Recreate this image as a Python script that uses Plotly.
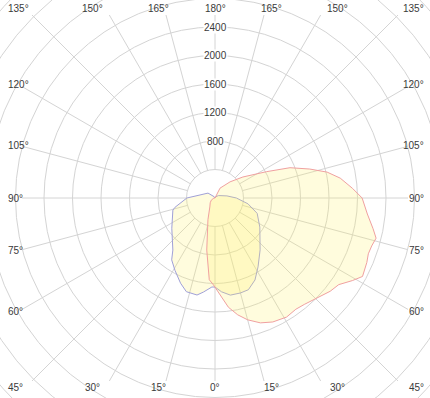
import numpy as np
import plotly.graph_objects as go

# ---- data (angle in degrees from nadir, negative = left half; intensity in cd) ----
red_angles = [-180, -150, -120, -90, -60, -45, -30, -18, -9, -4, -1, 0, 3, 7, 11, 15, 20, 25,
              31, 36, 40, 47, 51, 55, 59, 62, 67, 70, 73, 76, 79, 84, 90, 94, 99, 103, 107,
              112, 117, 127, 137, 153, 180]
red_cd = [0, 0, 5, 15, 60, 95, 145, 320, 740, 1150, 1220, 1250, 1360, 1545, 1670, 1770, 1865, 1920,
          1950, 1930, 1950, 2025, 2080, 2120, 2250, 2345, 2315, 2290, 2300, 2330, 2260, 2150, 2065,
          1935, 1780, 1615, 1390, 1135, 815, 490, 310, 155, 0]

blue_angles = [-180, -150, -125, -101, -90, -77, -74, -55, -39, -35, -29, -22, -17, -10.5, -7, -2,
               0, 4, 9, 15, 20, 26, 32, 41, 57, 70, 80, 90, 100, 125, 150, 180]
blue_cd = [0, 20, 120, 215, 395, 575, 615, 740, 940, 1060, 1160, 1290, 1375, 1385, 1330, 1250,
           1250, 1320, 1380, 1380, 1370, 1280, 1140, 965, 750, 630, 470, 300, 170, 60, 20, 0]

radial_ticks = [800, 1200, 1600, 2000, 2400]
grid_circles = [400, 800, 1200, 1600, 2000, 2400, 2800, 3200, 3600, 4000, 4400]
spoke_angles = list(range(-180, 180, 15))
angle_labels = [0, 15, 30, 45, 60, 75, 90, 105, 120, 135, 150, 165, 180]

# ---- geometry helpers ----
PX = 400 / 28.5          # cd per screen pixel
CX, CY = 215, 198        # centre in screen pixels
W, H = 430, 398


def to_xy(angles, cd):
    a = np.radians(np.asarray(angles, dtype=float))
    r = np.asarray(cd, dtype=float)
    return r * np.sin(a), -r * np.cos(a)


def px2x(px):
    return (px - CX) * PX


def px2y(py):
    return (CY - py) * PX


GRID = "#d4d4d4"
TXT = "#3a3a3a"
FONT = "Arial, 'Liberation Sans', sans-serif"

fig = go.Figure()

shapes = []
for r in grid_circles:
    shapes.append(dict(type="circle", xref="x", yref="y", x0=-r, x1=r, y0=-r, y1=r,
                       line=dict(color=GRID, width=1), layer="below"))

SW, SH = 193 * PX, 183 * PX
for a in spoke_angles:
    s, c = np.sin(np.radians(a)), -np.cos(np.radians(a))
    t = min(SW / abs(s) if abs(s) > 1e-9 else 1e9, SH / abs(c) if abs(c) > 1e-9 else 1e9)
    shapes.append(dict(type="line", xref="x", yref="y",
                       x0=400 * s, y0=400 * c, x1=t * s, y1=t * c,
                       line=dict(color=GRID, width=1), layer="below"))

bx, by = to_xy(blue_angles, blue_cd)
rx, ry = to_xy(red_angles, red_cd)
fill = "rgba(255,240,100,0.22)"
fig.add_trace(go.Scatter(x=bx, y=by, mode="lines", fill="toself", fillcolor=fill,
                         line=dict(color="#a0a0d8", width=1), hoverinfo="skip", showlegend=False))
fig.add_trace(go.Scatter(x=rx, y=ry, mode="lines", fill="toself", fillcolor=fill,
                         line=dict(color="#f0a0a0", width=1), hoverinfo="skip", showlegend=False))

ann = []
for v in radial_ticks:
    ann.append(dict(x=0, y=v, xref="x", yref="y", text=str(v), showarrow=False,
                    font=dict(size=10, color=TXT, family=FONT), bgcolor="white", borderpad=0))

for a in angle_labels:
    sides = [0] if a in (0, 180) else [-1, 1]
    for sd in sides:
        txt = f"{a}°"
        if a <= 30 or a >= 150:
            dy = 189 if a <= 30 else -190
            ang = a if a <= 30 else 180 - a
            dx = sd * 212 * np.tan(np.radians(ang))
            ann.append(dict(x=px2x(CX + dx), y=px2y(CY + dy), xref="x", yref="y", text=txt,
                            showarrow=False, xanchor="center", yanchor="middle",
                            font=dict(size=10, color=TXT, family=FONT)))
        else:
            dy = 196 / np.tan(np.radians(a))
            dy = max(min(dy, 189), -190)
            xp = 6 if sd < 0 else 426
            ann.append(dict(x=px2x(xp), y=px2y(CY + dy), xref="x", yref="y", text=txt,
                            showarrow=False, xanchor="left" if sd < 0 else "right",
                            yanchor="middle", font=dict(size=10, color=TXT, family=FONT)))

fig.update_layout(
    width=W, height=H, margin=dict(l=0, r=0, t=0, b=0),
    paper_bgcolor="white", plot_bgcolor="white",
    xaxis=dict(range=[px2x(0), px2x(W)], visible=False, fixedrange=True),
    yaxis=dict(range=[px2y(H), px2y(0)], visible=False, fixedrange=True),
    shapes=shapes, annotations=ann, showlegend=False,
)

fig.write_html("out.html", config={"displayModeBar": False})
